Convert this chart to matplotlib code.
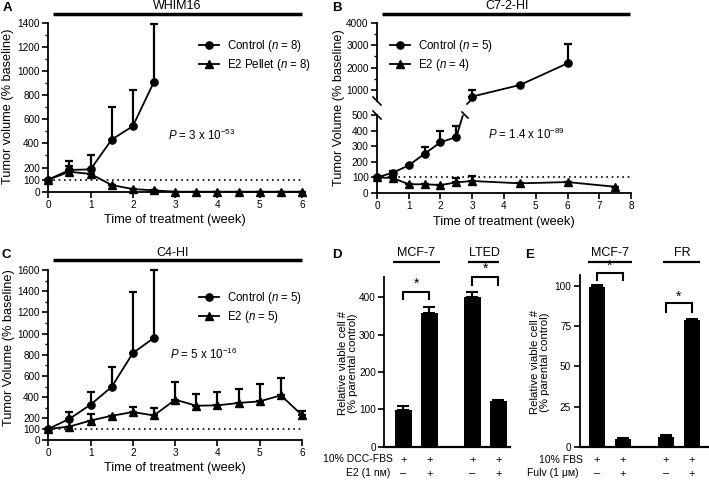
import numpy as np
import matplotlib
matplotlib.use('Agg')
import matplotlib.pyplot as plt
from matplotlib.lines import Line2D
from matplotlib.ticker import MultipleLocator, FixedLocator

plt.rcParams['font.family'] = ['Liberation Sans', 'DejaVu Sans']
plt.rcParams['mathtext.fontset'] = 'custom'
plt.rcParams['mathtext.rm'] = 'Liberation Sans'
plt.rcParams['mathtext.it'] = 'Liberation Sans:italic'
plt.rcParams['mathtext.bf'] = 'Liberation Sans:bold'

# ---------------- data ----------------
# Panel A (WHIM16)
a_weeks_ctrl = [0, 0.5, 1, 1.5, 2, 2.5]
a_ctrl = [100, 180, 185, 432, 543, 911]
a_ctrl_err = [0, 75, 118, 266, 299, 479]
a_weeks_e2 = [0, 0.5, 1, 1.5, 2, 2.5, 3, 3.5, 4, 4.5, 5, 5.5, 6]
a_e2 = [100, 165, 147, 55, 22, 11, 0, 0, 0, 0, 0, 0, 0]
a_e2_err = [0, 45, 0, 0, 0, 0, 0, 0, 0, 0, 0, 0, 0]

# Panel B (C7-2-HI)
b_weeks_ctrl = [0, 0.5, 1, 1.5, 2, 2.5, 3, 4.5, 6]
b_ctrl = [100, 130, 177, 252, 325, 359, 700, 1218, 2191]
b_ctrl_err = [0, 8, 5, 45, 70, 72, 280, 0, 853]
b_weeks_e2 = [0, 0.5, 1, 1.5, 2, 2.5, 3, 4.5, 6, 7.5]
b_e2 = [100, 96, 56, 56, 51, 68, 77, 62, 70, 40]
b_e2_err = [0, 13, 0, 0, 0, 26, 32, 0, 0, 0]

# Panel C (C4-HI)
c_weeks_ctrl = [0, 0.5, 1, 1.5, 2, 2.5]
c_ctrl = [100, 195, 329, 497, 816, 960]
c_ctrl_err = [0, 64, 120, 184, 574, 640]
c_weeks_e2 = [0, 0.5, 1, 1.5, 2, 2.5, 3, 3.5, 4, 4.5, 5, 5.5, 6]
c_e2 = [100, 122, 179, 224, 259, 227, 376, 319, 322, 345, 360, 417, 230]
c_e2_err = [0, 0, 61, 0, 48, 70, 165, 111, 124, 133, 162, 159, 38]

# Panel D
d_groups = ['MCF-7', 'LTED']
d_vals = [99, 357, 400, 121]
d_err = [9, 18, 13, 5]
d_row1 = ['+', '+', '+', '+']
d_row2 = ['–', '+', '–', '+']
d_row_labels = ['10% DCC-FBS', 'E2 (1 nᴍ)']
d_ticks = [0, 100, 200, 300, 400]

# Panel E
e_groups = ['MCF-7', 'FR']
e_vals = [99.6, 5.0, 6.3, 78.5]
e_err = [0.8, 0.5, 0.8, 0.8]
e_row1 = ['+', '+', '+', '+']
e_row2 = ['–', '+', '–', '+']
e_row_labels = ['10% FBS', 'Fulv (1 μᴍ)']
e_ticks = [0, 25, 50, 75, 100]

bar_pos = [0, 1, 2.65, 3.65]

# ---------------- helpers ----------------
W, H = 709, 482
fig = plt.figure(figsize=(W / 100, H / 100), dpi=100)

TICK_FS = 7.2
LABEL_FS = 9.2


def ax_px(l, t, r, b):
    return fig.add_axes([l / W, 1 - b / H, (r - l) / W, (b - t) / H])


def fx(x):
    return x / W


def fy(y):
    return 1 - y / H


def hline_px(x0, x1, y, lw=2.5):
    fig.add_artist(Line2D([fx(x0), fx(x1)], [fy(y), fy(y)], color='k', lw=lw,
                          transform=fig.transFigure, solid_capstyle='butt'))


def seg_px(x0, y0, x1, y1, lw=1.2):
    fig.add_artist(Line2D([fx(x0), fx(x1)], [fy(y0), fy(y1)], color='k', lw=lw,
                          transform=fig.transFigure))


def ylabel_px(x, y, s, **kw):
    fig.text(fx(x), fy(y), s, fontsize=kw.pop('fontsize', LABEL_FS), rotation=90,
             ha='center', va='center', **kw)


def style(ax, fs=TICK_FS):
    for s in ['top', 'right']:
        ax.spines[s].set_visible(False)
    for s in ['left', 'bottom']:
        ax.spines[s].set_linewidth(1.3)
    ax.tick_params(which='major', length=4, width=1.2, labelsize=fs, pad=2)
    ax.tick_params(which='minor', length=2.2, width=1.0)


def series(ax, x, y, err, marker, clip=False, label=None):
    ax.errorbar(x, y, yerr=[np.zeros(len(err)), err], fmt='none', ecolor='k',
                elinewidth=1.6, capsize=3.0, capthick=1.6, clip_on=clip, zorder=3)
    ln, = ax.plot(x, y, '-', marker=marker, color='k', ms=5.2 if marker == 'o' else 5.8,
                  lw=1.3, clip_on=clip, zorder=4, label=label)
    return ln


def legend(ax, handles, labels, x, y):
    ax.legend(handles, labels, loc='upper left', bbox_to_anchor=(x, y),
              bbox_transform=fig.transFigure, frameon=False, fontsize=8.3,
              handlelength=1.7, handletextpad=0.7, labelspacing=0.28,
              borderpad=0, borderaxespad=0, numpoints=1)


# ---------------- Panel A ----------------
axA = ax_px(48.3, 22.7, 302, 191.7)
style(axA)
axA.set_xlim(0, 6)
axA.set_ylim(0, 1400)
axA.set_xticks(range(0, 7))
axA.yaxis.set_major_locator(FixedLocator([0, 100, 200, 400, 600, 800, 1000, 1200, 1400]))
axA.yaxis.set_minor_locator(MultipleLocator(100))
axA.axhline(100, color='k', lw=1.2, ls=(0, (1, 2.2)), zorder=1)
hA1 = series(axA, a_weeks_ctrl, a_ctrl, a_ctrl_err, 'o')
hA2 = series(axA, a_weeks_e2, a_e2, a_e2_err, '^')
axA.set_xlabel('Time of treatment (week)', fontsize=LABEL_FS, labelpad=3)
ylabel_px(8, 106, 'Tumor volume (% baseline)')
legend(axA, [hA1, hA2], ['Control ($\\mathit{n}$ = 8)', 'E2 Pellet ($\\mathit{n}$ = 8)'],
       fx(199), fy(38))
axA.text(2.83, 470, '$\\mathit{P}$ = 3 x 10$^{-53}$', fontsize=8.3, ha='left', va='center')
fig.text(fx(177), fy(6), 'WHIM16', fontsize=9, ha='center', va='center')
hline_px(53, 302, 14)
fig.text(fx(7), fy(8), 'A', fontsize=9.5, fontweight='bold', ha='center', va='center')

# ---------------- Panel B (broken axis) ----------------
axBl = ax_px(377, 115, 631, 193)
axBu = ax_px(377, 23, 631, 101)
style(axBl)
style(axBu)
axBl.set_xlim(0, 8)
axBu.set_xlim(0, 8)
axBl.set_ylim(0, 500)
axBu.set_ylim(500, 4000)
axBl.set_xticks(range(0, 9))
axBl.set_yticks([0, 100, 200, 300, 400, 500])
axBu.set_yticks([1000, 2000, 3000, 4000])
axBu.yaxis.set_minor_locator(FixedLocator([1500, 2500, 3500]))
axBu.spines['bottom'].set_visible(False)
axBu.tick_params(axis='x', which='both', bottom=False, labelbottom=False)
axBl.axhline(100, color='k', lw=1.2, ls=(0, (1, 2.2)), zorder=1)
n_low = 6
hB1 = series(axBl, b_weeks_ctrl[:n_low], b_ctrl[:n_low], b_ctrl_err[:n_low], 'o')
axBl.plot(b_weeks_ctrl[n_low - 1:n_low + 1], b_ctrl[n_low - 1:n_low + 1], '-', color='k', lw=1.3)
hB2 = series(axBl, b_weeks_e2, b_e2, b_e2_err, '^')
series(axBu, b_weeks_ctrl[n_low:], b_ctrl[n_low:], b_ctrl_err[n_low:], 'o')
axBl.set_xlabel('Time of treatment (week)', fontsize=LABEL_FS, labelpad=3)
ylabel_px(339, 108, 'Tumor Volume (% baseline)')
legend(axBu, [hB1, hB2], ['Control ($\\mathit{n}$ = 5)', 'E2 ($\\mathit{n}$ = 4)'],
       fx(390), fy(38))
axBl.text(3.5, 378, '$\\mathit{P}$ = 1.4 x 10$^{-89}$', fontsize=8.3, ha='left', va='center')
# axis-break marks
seg_px(373, 111, 381, 119)
seg_px(373, 97, 381, 105)
seg_px(462, 112, 468, 118)
seg_px(467, 104, 473, 98)
fig.text(fx(507), fy(6), 'C7-2-HI', fontsize=9, ha='center', va='center')
hline_px(382, 630, 14)
fig.text(fx(337), fy(8), 'B', fontsize=9.5, fontweight='bold', ha='center', va='center')

# ---------------- Panel C ----------------
axC = ax_px(48.3, 270, 302, 439.5)
style(axC)
axC.set_xlim(0, 6)
axC.set_ylim(0, 1600)
axC.set_xticks(range(0, 7))
axC.yaxis.set_major_locator(FixedLocator([0, 100, 200, 400, 600, 800, 1000, 1200, 1400, 1600]))
axC.yaxis.set_minor_locator(MultipleLocator(100))
axC.axhline(100, color='k', lw=1.2, ls=(0, (1, 2.2)), zorder=1)
hC1 = series(axC, c_weeks_ctrl, c_ctrl, c_ctrl_err, 'o')
hC2 = series(axC, c_weeks_e2, c_e2, c_e2_err, '^')
axC.set_xlabel('Time of treatment (week)', fontsize=LABEL_FS, labelpad=3)
ylabel_px(9, 348, 'Tumor Volume (% baseline)')
legend(axC, [hC1, hC2], ['Control ($\\mathit{n}$ = 5)', 'E2 ($\\mathit{n}$ = 5)'],
       fx(199), fy(290))
axC.text(2.88, 805, '$\\mathit{P}$ = 5 x 10$^{-16}$', fontsize=8.3, ha='left', va='center')
fig.text(fx(173), fy(253), 'C4-HI', fontsize=9, ha='center', va='center')
hline_px(53, 302, 260)
fig.text(fx(6), fy(255), 'C', fontsize=9.5, fontweight='bold', ha='center', va='center')


# ---------------- bar panels ----------------
def bar_panel(ax, vals, err, ylim, ticks):
    style(ax)
    ax.bar(bar_pos, vals, width=0.64, color='k', zorder=2)
    ax.errorbar(bar_pos, vals, yerr=[np.zeros(len(err)), err], fmt='none', ecolor='k',
                elinewidth=1.5, capsize=4.5, capthick=1.5, zorder=3, clip_on=False)
    ax.set_ylim(*ylim)
    ax.set_yticks(ticks)
    ax.set_xticks([])
    ax.spines['bottom'].set_linewidth(1.6)


def bracket(ax, x0, x1, ytop, ybot, ystar):
    ax.plot([x0, x0, x1, x1], [ybot, ytop, ytop, ybot], color='k', lw=1.5, clip_on=False,
            solid_joinstyle='miter')
    ax.text((x0 + x1) / 2, ystar, '*', fontsize=10, ha='center', va='center', clip_on=False)


UNIT = 26.0

# Panel D
D_L, D_R, D_C0 = 384.3, 510, 403.3
axD = ax_px(D_L, 276.7, D_R, 446.7)
axD.set_xlim((D_L - D_C0) / UNIT, (D_R - D_C0) / UNIT)
bar_panel(axD, d_vals, d_err, (0, 455), d_ticks)
ylabel_px(348, 363, 'Relative viable cell #\n(% parental control)', fontsize=8.2,
          linespacing=1.0)
bracket(axD, bar_pos[0], bar_pos[1], 415, 395, 436)
bracket(axD, bar_pos[2], bar_pos[3], 455, 433, 476)
for i, p in enumerate(bar_pos):
    xp = D_C0 + p * UNIT
    fig.text(fx(xp), fy(459.5), d_row1[i], fontsize=8, ha='center', va='center')
    fig.text(fx(xp), fy(473.5), d_row2[i], fontsize=8, ha='center', va='center')
fig.text(fx(393), fy(459.5), d_row_labels[0], fontsize=7.5, ha='right', va='center')
fig.text(fx(390), fy(473.5), d_row_labels[1], fontsize=7.5, ha='right', va='center')
fig.text(fx(416), fy(253), d_groups[0], fontsize=9, ha='center', va='center')
hline_px(393, 440, 261.7, lw=1.6)
fig.text(fx(484), fy(253), d_groups[1], fontsize=9, ha='center', va='center')
hline_px(468, 499, 261.7, lw=1.6)
fig.text(fx(337), fy(255), 'D', fontsize=9.5, fontweight='bold', ha='center', va='center')

# Panel E
E_L, E_R, E_C0 = 579.5, 708, 597.0
axE = ax_px(E_L, 275, E_R, 446.7)
axE.set_xlim((E_L - E_C0) / UNIT, (E_R - E_C0) / UNIT)
bar_panel(axE, e_vals, e_err, (0, 106.8), e_ticks)
ylabel_px(540, 362, 'Relative viable cell #\n(% parental control)', fontsize=8.2,
          linespacing=1.0)
bracket(axE, bar_pos[0], bar_pos[1], 108.3, 103.7, 112.3)
bracket(axE, bar_pos[2], bar_pos[3], 89.2, 84.0, 93.0)
for i, p in enumerate(bar_pos):
    xp = E_C0 + p * UNIT
    fig.text(fx(xp), fy(460), e_row1[i], fontsize=8, ha='center', va='center')
    fig.text(fx(xp), fy(473.5), e_row2[i], fontsize=8, ha='center', va='center')
fig.text(fx(583.3), fy(460), e_row_labels[0], fontsize=7.5, ha='right', va='center')
fig.text(fx(579), fy(473.5), e_row_labels[1], fontsize=7.5, ha='right', va='center')
fig.text(fx(610), fy(253), e_groups[0], fontsize=9, ha='center', va='center')
hline_px(588, 632, 261.7, lw=1.6)
fig.text(fx(682), fy(253), e_groups[1], fontsize=9, ha='center', va='center')
hline_px(663, 700, 261.7, lw=1.6)
fig.text(fx(530), fy(255), 'E', fontsize=9.5, fontweight='bold', ha='center', va='center')

fig.savefig('out.png', dpi=100)
